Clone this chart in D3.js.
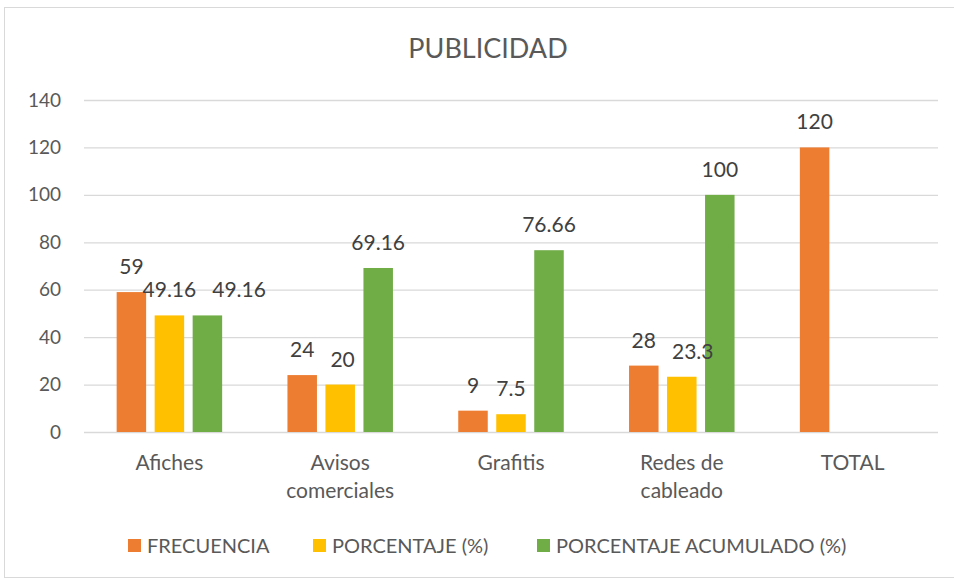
<!DOCTYPE html>
<html lang="es">
<head>
<meta charset="UTF-8">
<title>PUBLICIDAD</title>
<script src="https://cdn.jsdelivr.net/npm/d3@7"></script>
<style>
  body { margin: 0; background: #fff; }
  text { font-family: Lato, "Liberation Sans", sans-serif; }
</style>
</head>
<body>
<script>
const categories = [["Afiches"], ["Avisos", "comerciales"], ["Grafitis"], ["Redes de", "cableado"], ["TOTAL"]];
const seriesNames = ["FRECUENCIA", "PORCENTAJE (%)", "PORCENTAJE ACUMULADO (%)"];
const frecuencia = [59, 24, 9, 28, 120];
const porcentaje = [49.16, 20, 7.5, 23.3, null];
const acumulado = [49.16, 69.16, 76.66, 100, null];
const yTicks = [0, 20, 40, 60, 80, 100, 120, 140];
const colors = ["#ed7d31", "#ffc000", "#70ad47"];

const W = 954, H = 581;
const margin = { top: 100, right: 16, bottom: 149, left: 84 };
const width = W - margin.left - margin.right;
const height = H - margin.top - margin.bottom;

const svg = d3.select("body").append("svg")
    .attr("width", W)
    .attr("height", H);

// chart frame
svg.append("rect")
    .attr("x", 4.5).attr("y", 7.5)
    .attr("width", W - 4).attr("height", H - 11)
    .attr("fill", "#fff")
    .attr("stroke", "#d9d9d9");

svg.append("text")
    .attr("x", 488).attr("y", 58)
    .attr("text-anchor", "middle")
    .attr("font-size", 27)
    .attr("fill", "#595959")
    .text("PUBLICIDAD");

const g = svg.append("g").attr("transform", `translate(${margin.left},${margin.top})`);

const x = d3.scaleBand().domain(d3.range(categories.length)).range([0, width]);
const y = d3.scaleLinear().domain([0, 140]).range([height, 0]);

// gridlines
g.append("g")
    .call(d3.axisLeft(y).tickValues(yTicks).tickSize(-width).tickFormat(""))
    .call(s => s.select(".domain").remove())
    .call(s => s.selectAll("line").attr("stroke", "#d9d9d9").attr("stroke-width", 1.3));

// y tick labels
g.append("g")
    .call(d3.axisLeft(y).tickValues(yTicks).tickSize(0).tickPadding(23))
    .call(s => s.select(".domain").remove())
    .call(s => s.selectAll("text").attr("font-size", 19).attr("fill", "#595959")
        .style("font-family", "Lato, 'Liberation Sans', sans-serif"));

// x tick labels
const xl = g.append("g").attr("transform", `translate(0,${height})`);
categories.forEach((lines, i) => {
    const t = xl.append("text")
        .attr("x", x(i) + x.bandwidth() / 2)
        .attr("y", 38)
        .attr("text-anchor", "middle")
        .attr("font-size", 21)
        .attr("fill", "#595959");
    lines.forEach((l, j) => t.append("tspan")
        .attr("x", x(i) + x.bandwidth() / 2)
        .attr("dy", j === 0 ? 0 : 28)
        .text(l));
});

const series = [frecuencia, porcentaje, acumulado];
const step = 38, barW = 29.5;
const groupW = step * 2 + barW;
const xs = d3.scaleLinear().domain([0, 1]).range([0, step]);

series.forEach((vals, si) => {
    const data = vals.map((v, i) => ({ i, v })).filter(d => d.v !== null);
    g.selectAll(".bar" + si).data(data).enter().append("rect")
        .attr("x", d => x(d.i) + (x.bandwidth() - groupW) / 2 + xs(si))
        .attr("y", d => y(d.v))
        .attr("width", barW)
        .attr("height", d => height - y(d.v))
        .attr("fill", colors[si]);
});

// data labels, nudged right when they collide with the previous one in a group
categories.forEach((c, i) => {
    let prevRight = -Infinity, prevY = null;
    series.forEach((vals, si) => {
        const v = vals[i];
        if (v === null) return;
        const cx = x(i) + (x.bandwidth() - groupW) / 2 + xs(si) + barW / 2;
        const t = g.append("text")
            .attr("y", y(v) - 18)
            .attr("text-anchor", "middle")
            .attr("font-size", 21)
            .attr("fill", "#404040")
            .text(v);
        const w = t.node().getComputedTextLength();
        let left = cx - w / 2;
        if (prevY !== null && Math.abs(prevY - y(v)) < 20 && left < prevRight + 16) left = prevRight + 16;
        t.attr("x", left + w / 2);
        prevRight = left + w;
        prevY = y(v);
    });
});

// legend
const legendX = [128, 313, 537];
const lg = svg.append("g").attr("transform", "translate(0,539)");
seriesNames.forEach((n, i) => {
    lg.append("rect").attr("x", legendX[i]).attr("y", 0).attr("width", 13).attr("height", 13).attr("fill", colors[i]);
    lg.append("text").attr("x", legendX[i] + 19).attr("y", 14)
        .attr("font-size", 20).attr("fill", "#595959").text(n);
});
</script>
</body>
</html>
